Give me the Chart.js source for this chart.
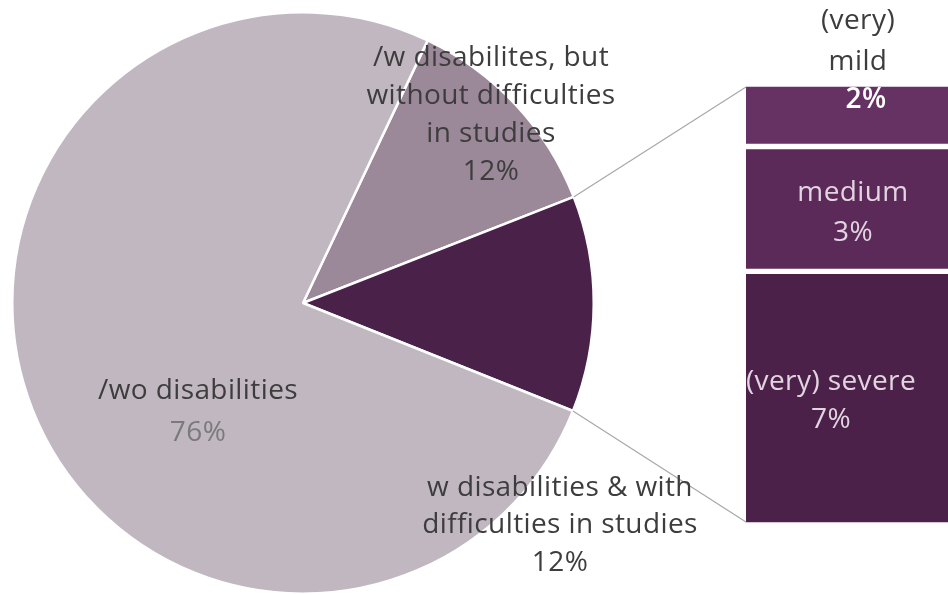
<!DOCTYPE html>
<html>
<head>
<meta charset="utf-8">
<script src="https://cdn.jsdelivr.net/npm/chart.js@4/dist/chart.umd.min.js"></script>
<style>
  html, body { margin: 0; padding: 0; background: #fff; }
  #wrap { position: relative; width: 948px; height: 595px; overflow: hidden; }
  #wrap canvas { position: absolute; left: 0; top: 0; }
</style>
</head>
<body>
<div id="wrap">
  <canvas id="pie" width="948" height="595"></canvas>
  <canvas id="bar" width="948" height="595"></canvas>
</div>
<script>
// pie: share of students (clockwise from the "/w" slice)
const pieCategories = ['w/ disabilities, no difficulties', 'w/ disabilities & difficulties', 'w/o disabilities']
const pieValues = [12, 12, 76]
const pieColors = ['#9b8898', '#4a2249', '#c1b7c1']

// breakdown of the "with difficulties" slice, bottom to top
const barCategories = ['(very) severe', 'medium', '(very) mild']
const barValues = [6.9, 3.4, 1.7]
const barColors = ['#4b2149', '#5c2a58', '#663163']

// text blocks: lines, centre x, first line y, line step, colours per line
const FONT = '"Open Sans", "Noto Sans", sans-serif'
const textBlocks = [
  { lines: ['/w disabilites, but', 'without difficulties', 'in studies', '12%'], x: 491, y: 58, step: 38, colors: ['#3d3d3d'] },
  { lines: ['/wo disabilities'], x: 198, y: 391, step: 0, colors: ['#3d3d3d'] },
  { lines: ['76%'], x: 198, y: 433, step: 0, colors: ['#7a7a7a'] },
  { lines: ['w disabilities & with', 'difficulties in studies', '12%'], x: 560, y: 488, step: 37.5, colors: ['#3d3d3d'] },
  { lines: ['(very)', 'mild'], x: 858, y: 21, step: 41, colors: ['#3d3d3d'] },
  { lines: ['2%'], x: 866, y: 100, step: 0, colors: ['#fff'], bold: true },
  { lines: ['medium', '3%'], x: 853, y: 193, step: 40, colors: ['#e2d4e0'] },
  { lines: ['(very) severe', '7%'], x: 831, y: 382, step: 38, colors: ['#e2d4e0'] }
]

const pieChart = new Chart(document.getElementById('pie'), {
  type: 'pie',
  data: {
    labels: pieCategories,
    datasets: [{
      data: pieValues,
      backgroundColor: pieColors,
      borderColor: '#fff',
      borderWidth: 2.5
    }]
  },
  options: {
    responsive: false,
    animation: false,
    rotation: 25.4,
    layout: { padding: { left: 11, top: 11, right: 353, bottom: 0 } },
    plugins: { legend: { display: false }, tooltip: { enabled: false } }
  }
})

// connector lines from the dark slice to the stacked bar, plus all text
const overlayPlugin = {
  id: 'overlay',
  afterDraw(chart) {
    const ctx = chart.ctx
    const arc = pieChart.getDatasetMeta(0).data[1]
    const { x, y, startAngle, endAngle, outerRadius } = arc.getProps(['x', 'y', 'startAngle', 'endAngle', 'outerRadius'], true)
    const metas = chart.data.datasets.map((_, i) => chart.getDatasetMeta(i).data[0])
    const bottomBar = metas[0]
    const topBar = metas[metas.length - 1]
    const barLeft = bottomBar.x - bottomBar.width / 2
    const gap = 3

    ctx.save()
    ctx.strokeStyle = '#a8a8a8'
    ctx.lineWidth = 1.2
    ctx.beginPath()
    ctx.moveTo(x + Math.cos(startAngle) * outerRadius, y + Math.sin(startAngle) * outerRadius)
    ctx.lineTo(barLeft, topBar.y + gap)
    ctx.moveTo(x + Math.cos(endAngle) * outerRadius, y + Math.sin(endAngle) * outerRadius)
    ctx.lineTo(barLeft, bottomBar.base - gap)
    ctx.stroke()

    ctx.textAlign = 'center'
    ctx.textBaseline = 'middle'
    ctx.letterSpacing = '0.4px'
    textBlocks.forEach(b => {
      ctx.font = (b.bold ? '600 ' : '400 ') + '28px ' + FONT
      b.lines.forEach((line, i) => {
        ctx.fillStyle = b.colors[Math.min(i, b.colors.length - 1)]
        ctx.fillText(line, b.x, b.y + i * b.step)
      })
    })
    ctx.restore()
  }
}

new Chart(document.getElementById('bar'), {
  type: 'bar',
  data: {
    labels: ['difficulties'],
    datasets: barValues.map((v, i) => ({
      label: barCategories[i],
      data: [v],
      backgroundColor: barColors[i],
      borderColor: '#fff',
      borderWidth: { top: 3, bottom: 3, left: 0, right: 0 },
      borderSkipped: false,
      barPercentage: 1,
      categoryPercentage: 1
    }))
  },
  options: {
    responsive: false,
    animation: false,
    layout: { padding: { left: 746, top: 84, right: 0, bottom: 70 } },
    scales: {
      x: { stacked: true, display: false },
      y: { stacked: true, display: false, min: 0, max: 12 }
    },
    plugins: { legend: { display: false }, tooltip: { enabled: false } }
  },
  plugins: [overlayPlugin]
})
</script>
</body>
</html>
